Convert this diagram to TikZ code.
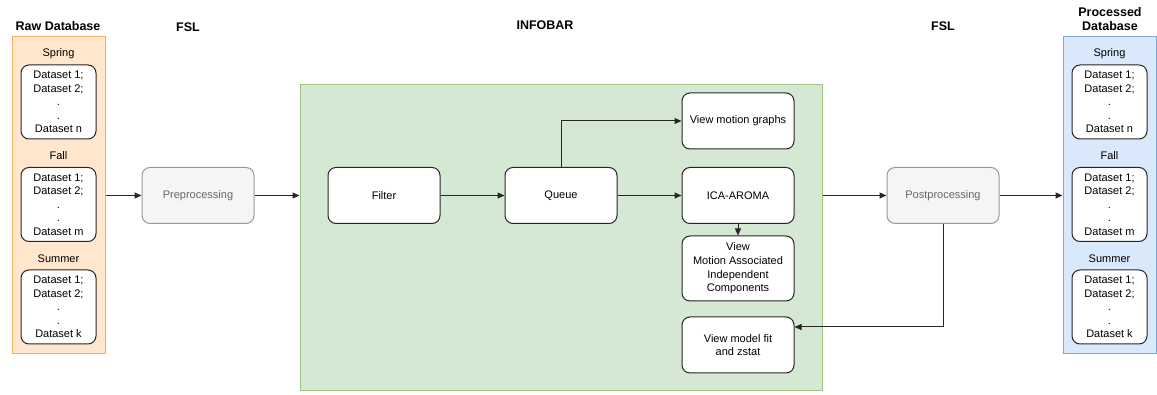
\documentclass[tikz,border=0pt]{standalone}
\usepackage{fontspec}
\setmainfont{Liberation Sans}
\usetikzlibrary{arrows.meta}
\definecolor{rawfill}{HTML}{FFE6CC}
\definecolor{rawline}{HTML}{F2B45C}
\definecolor{barfill}{HTML}{D5E8D4}
\definecolor{barline}{HTML}{9AC585}
\definecolor{prcfill}{HTML}{DAE8FC}
\definecolor{prcline}{HTML}{7EA6D8}
\begin{document}
\begin{tikzpicture}[x=1pt,y=-1pt]
\fontsize{11}{13.6}\selectfont
\useasboundingbox (0,0) rectangle (1157,395);
\begin{scope}[->,>={Triangle[length=7pt,width=6pt]},line width=1pt,draw=black!85,
              title/.style={align=center,font=\fontsize{12.5}{14}\selectfont\bfseries},
              panel/.style={rectangle,draw,line width=1pt,minimum width=93pt,minimum height=317pt},
              block1/.style={rectangle,draw,rounded corners=8pt,fill=white,align=center,
                             minimum width=112pt,minimum height=56pt},
              block2/.style={block1,fill=black!4,draw=black!40,text=black!60},
              block3/.style={block1,minimum width=75pt,minimum height=74pt}]
    \node [title] (1) at (58,26) {Raw Database};
    \node [title] (2) at (188,27) {FSL};
    \node [title] (3) at (545,25) {INFOBAR};
    \node [title] (4) at (943,26) {FSL};
    \node [title] (5) at (1110,19.5) {Processed\\Database};
    \node [panel,fill=rawfill,draw=rawline] (10) at (58.5,195.5) {};
    \node [panel,fill=prcfill,draw=prcline] (50) at (1109.5,195.5) {};
    \node [rectangle,draw=barline,fill=barfill,line width=1pt,
           minimum width=522pt,minimum height=305pt] (30) at (561,237.5) {};
    \node (11) at (58.5,54) {Spring};
    \node [block3] (12) at (58.5,102) {Dataset 1;\\ Dataset 2;\\ .\\ .\\ Dataset n};
    \node (13) at (58.5,156) {Fall};
    \node [block3] (14) at (58.5,204.5) {Dataset 1;\\ Dataset 2;\\ .\\ .\\ Dataset m};
    \node (15) at (58.5,259) {Summer};
    \node [block3] (16) at (58.5,307) {Dataset 1;\\ Dataset 2;\\ .\\ .\\ Dataset k};
    \node (51) at (1109.5,54) {Spring};
    \node [block3] (52) at (1109.5,102) {Dataset 1;\\ Dataset 2;\\ .\\ .\\ Dataset n};
    \node (53) at (1109.5,156) {Fall};
    \node [block3] (54) at (1109.5,204.5) {Dataset 1;\\ Dataset 2;\\ .\\ .\\ Dataset m};
    \node (55) at (1109.5,259) {Summer};
    \node [block3] (56) at (1109.5,307) {Dataset 1;\\ Dataset 2;\\ .\\ .\\ Dataset k};
    \node [block2] (20) at (198,195.5) {Preprocessing};
    \node [block2] (40) at (943,195.5) {Postprocessing};
    \node [block1] (31) at (384,195.5) {Filter};
    \node [block1] (32) at (561,195.5) {Queue};
    \node [block1] (33) at (738,121) {View motion graphs};
    \node [block1] (34) at (738,195.5) {ICA-AROMA};
    \node [block1,minimum height=65pt] (35) at (738,268.5) {View\\ Motion Associated\\ Independent\\ Components};
    \node [block1] (36) at (738,345) {View model fit\\ and zstat};
    \path (10) edge (20);
    \path (20) edge (20 -| 30.west);
    \path (31) edge (32);
    \path (32) edge (34);
    \draw (32) |- (33);
    \path (34) edge (35);
    \path (30.east |- 40) edge (40);
    \path (40) edge (50);
    \draw (40) |- ([yshift=18pt]36.east);
\end{scope}
\end{tikzpicture}
\end{document}
